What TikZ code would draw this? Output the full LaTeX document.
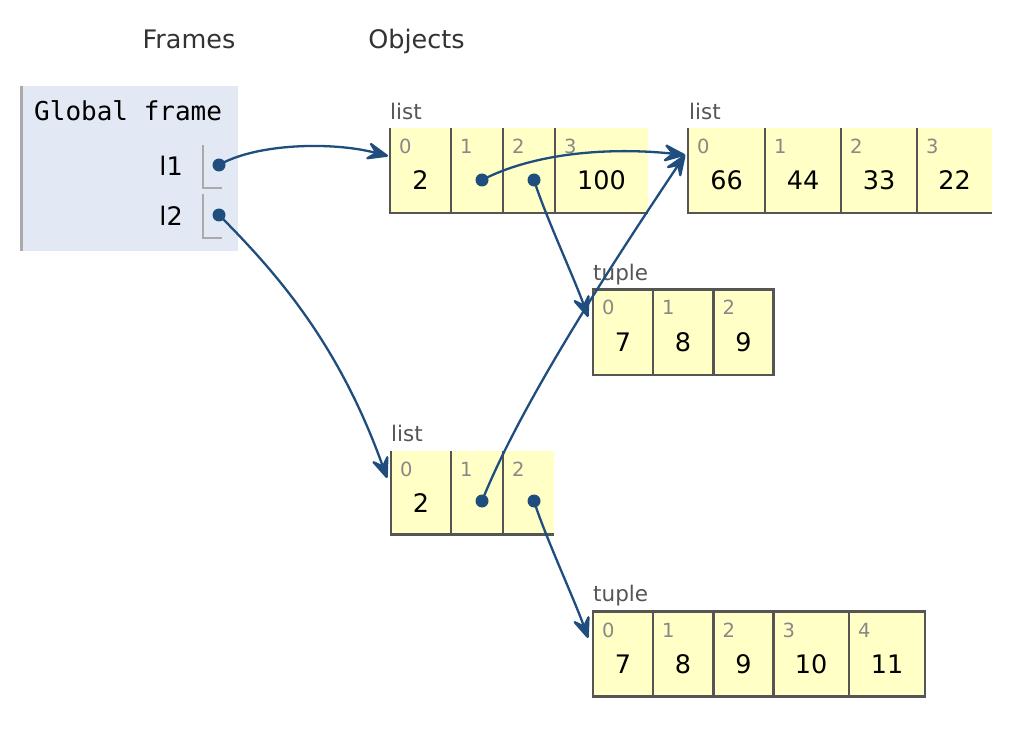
\documentclass[tikz,border=0pt]{standalone}
\usepackage{fontspec}
\setmainfont{DejaVu Sans}
\newfontfamily\codefont{DejaVu Sans Mono}
\usetikzlibrary{arrows.meta,calc}
\definecolor{ptrblue}{HTML}{1F4E7E}
\definecolor{cellfill}{HTML}{FFFFC6}
\definecolor{framefill}{HTML}{E2E9F4}
\definecolor{cellline}{HTML}{555555}
\definecolor{bracketgray}{HTML}{AAAAAA}
\definecolor{labelgray}{HTML}{555555}
\definecolor{idxgray}{HTML}{888888}
\definecolor{headgray}{HTML}{333333}

\begin{document}
\begin{tikzpicture}[x=1pt,y=-1pt,
  header/.style={text=headgray,font=\fontsize{25.5}{30}\selectfont,anchor=base,inner sep=0},
  framelbl/.style={font=\codefont\fontsize{26}{31}\selectfont,anchor=base west,inner sep=0},
  varname/.style={font=\fontsize{25.5}{30}\selectfont,anchor=base east,inner sep=0},
  bracket/.style={draw=bracketgray,line width=2.2pt},
  typelbl/.style={text=labelgray,font=\fontsize{21.5}{26}\selectfont,anchor=base west,inner sep=0},
  idx/.style={text=idxgray,font=\fontsize{19.5}{23}\selectfont,anchor=base west,inner sep=0},
  val/.style={font=\fontsize{25.5}{30}\selectfont,anchor=base,inner sep=0},
  listbox/.style={fill=cellfill,anchor=north west,inner sep=0,outer sep=0},
  tuplebox/.style={fill=cellfill,draw=cellline,line width=2.8pt,anchor=north west,inner sep=0,outer sep=0},
  cellrule/.style={draw=cellline,line width=2.8pt},
  ptrdot/.style={circle,fill=ptrblue,inner sep=0,minimum size=13pt},
  ptr/.style={draw=ptrblue,line width=2.3pt,-{Stealth[length=20pt,width=16pt,inset=8pt,round,scale=1.3]}}
]
\useasboundingbox (0,0) rectangle (1026,738);
\fill[white] (0,0) rectangle (1026,738);

% column headings
\node[header] (hframes) at (189,48.5) {Frames};
\node[header] (hobjects) at (416.5,48.5) {Objects};

% global frame
\node[fill=framefill,anchor=north west,inner sep=0,minimum width=218pt,minimum height=165pt] (gf) at (20,86) {};
\draw[draw=bracketgray,line width=3pt] (21.5,86) -- (21.5,251);
\node[framelbl] (gftitle) at (34,121) {Global frame};
\node[varname] (v1) at (183,175.5) {l1};
\node[varname] (v2) at (183,226) {l2};
\draw[bracket] (203,145) -- (203,188) -- (222,188);
\draw[bracket] (203,194) -- (203,238) -- (222,238);
\node[ptrdot] (p1) at (219,165) {};
\node[ptrdot] (p2) at (219,215) {};

% list [2, *, *, 100]
\node[typelbl] (t1) at (390,120) {list};
\node[listbox,minimum width=258pt,minimum height=85pt] (L1) at (390,128) {};
\draw[cellrule] (L1.north west) -- (L1.south west) -- (L1.south east);
\foreach \xx in {451,503,555} \draw[cellrule] (\xx,128) -- (\xx,213);
\node[idx] (L1i0) at (399,153.5) {0};
\node[idx] (L1i1) at (460,153.5) {1};
\node[idx] (L1i2) at (512,153.5) {2};
\node[idx] (L1i3) at (564,153.5) {3};
\node[val] (L1v0) at (420.5,190) {2};
\node[val] (L1v3) at (601.5,190) {100};
\node[ptrdot] (p3) at (482,180) {};
\node[ptrdot] (p4) at (534,180) {};

% list [66, 44, 33, 22]
\node[typelbl] (t2) at (689,120) {list};
\node[listbox,minimum width=304pt,minimum height=85pt] (L2) at (688,128) {};
\draw[cellrule] (L2.north west) -- (L2.south west) -- (L2.south east);
\foreach \xx in {765,841,917} \draw[cellrule] (\xx,128) -- (\xx,213);
\node[idx] (L2i0) at (697,153.5) {0};
\node[idx] (L2i1) at (774,153.5) {1};
\node[idx] (L2i2) at (850,153.5) {2};
\node[idx] (L2i3) at (926,153.5) {3};
\node[val] (L2v0) at (726.5,190) {66};
\node[val] (L2v1) at (803,190) {44};
\node[val] (L2v2) at (879,190) {33};
\node[val] (L2v3) at (954.5,190) {22};

% tuple (7, 8, 9)
\node[typelbl] (t3) at (593,281) {tuple};
\node[tuplebox,minimum width=180.5pt,minimum height=85.5pt] (T1) at (593,289.5) {};
\foreach \xx in {653,713.5} \draw[cellrule] (\xx,289.5) -- (\xx,375);
\node[idx] (T1i0) at (602,315) {0};
\node[idx] (T1i1) at (662,315) {1};
\node[idx] (T1i2) at (722.5,315) {2};
\node[val] (T1v0) at (623,351.5) {7};
\node[val] (T1v1) at (683,351.5) {8};
\node[val] (T1v2) at (743.5,351.5) {9};

% list [2, *, *]
\node[typelbl] (t4) at (391,441.5) {list};
\node[listbox,minimum width=162.5pt,minimum height=84pt] (L3) at (391,450.5) {};
\draw[cellrule] (L3.north west) -- (L3.south west) -- (L3.south east);
\foreach \xx in {451,503} \draw[cellrule] (\xx,450.5) -- (\xx,534.5);
\node[idx] (L3i0) at (400,476) {0};
\node[idx] (L3i1) at (460,476) {1};
\node[idx] (L3i2) at (512,476) {2};
\node[val] (L3v0) at (421,512.5) {2};
\node[ptrdot] (p5) at (482,501) {};
\node[ptrdot] (p6) at (534,501) {};

% tuple (7, 8, 9, 10, 11)
\node[typelbl] (t5) at (593,601.5) {tuple};
\node[tuplebox,minimum width=332pt,minimum height=85pt] (T2) at (593,611.5) {};
\foreach \xx in {653,713.5,773.5,849} \draw[cellrule] (\xx,611.5) -- (\xx,696.5);
\node[idx] (T2i0) at (602,637) {0};
\node[idx] (T2i1) at (662,637) {1};
\node[idx] (T2i2) at (722.5,637) {2};
\node[idx] (T2i3) at (782.5,637) {3};
\node[idx] (T2i4) at (858,637) {4};
\node[val] (T2v0) at (623,673.5) {7};
\node[val] (T2v1) at (683,673.5) {8};
\node[val] (T2v2) at (743.5,673.5) {9};
\node[val] (T2v3) at (811,673.5) {10};
\node[val] (T2v4) at (887,673.5) {11};

% arrow end points on the objects' left edges
\coordinate (L1in) at (388,156);
\coordinate (L2in) at (685,155);
\coordinate (T1in) at (588,317);
\coordinate (L3in) at (387,478);
\coordinate (T2in) at (588,638);

% references
\draw[ptr] (p1.center) .. controls (255,144) and (330,141) .. (L1in);
\draw[ptr] (p2.center) .. controls (280,276) and (340,347) .. (L3in);
\draw[ptr] (p3.center) .. controls (540,150) and (620,148) .. (L2in);
\draw[ptr] (p4.center) .. controls (545,215) and (575,280) .. (T1in);
\draw[ptr] (p5.center) .. controls (522,401) and (618,255) .. (L2in);
\draw[ptr] (p6.center) .. controls (545,536) and (575,601) .. (T2in);
\end{tikzpicture}
\end{document}
